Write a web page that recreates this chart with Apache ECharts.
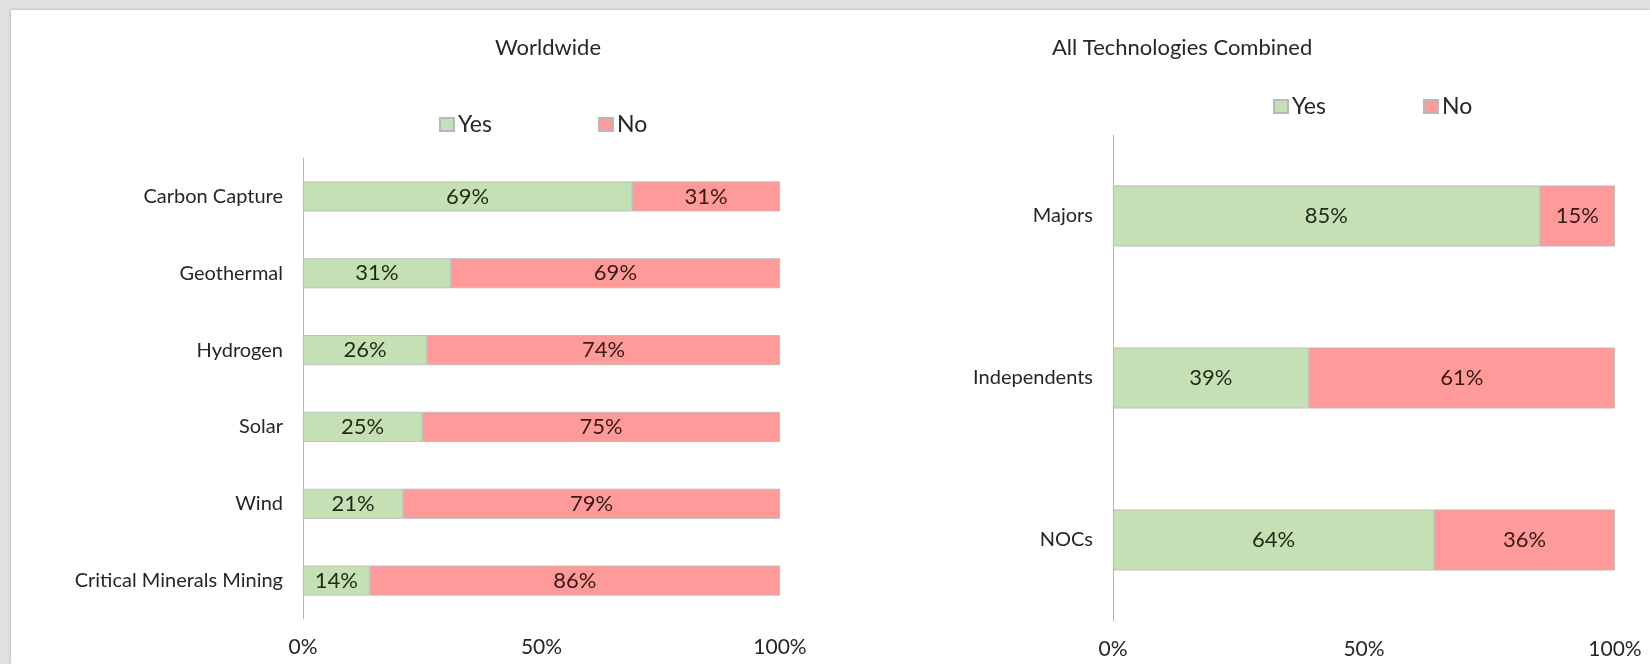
<!DOCTYPE html>
<html>
<head>
<meta charset="utf-8">
<script src="https://cdn.jsdelivr.net/npm/echarts@6/dist/echarts.min.js"></script>
<style>
  html, body { margin: 0; padding: 0; width: 1650px; height: 664px; background: #e2e2e2; overflow: hidden; }
  #panel { position: absolute; left: 11px; top: 10px; width: 1639px; height: 654px; background: #ffffff; box-shadow: -1px -1px 2px rgba(0,0,0,0.15); }
  #chart { position: absolute; left: 0; top: 0; width: 1650px; height: 664px; }
</style>
</head>
<body>
<div id="panel"></div>
<div id="chart"></div>
<script>
// ---- Data ----
const leftTitle = 'Worldwide';
const rightTitle = 'All Technologies Combined';
const seriesNames = ['Yes', 'No'];
const leftCategories = ['Carbon Capture', 'Geothermal', 'Hydrogen', 'Solar', 'Wind', 'Critical Minerals Mining'];
const leftYes = [69, 31, 26, 25, 21, 14];
const leftNo = [31, 69, 74, 75, 79, 86];
const rightCategories = ['Majors', 'Independents', 'NOCs'];
const rightYes = [85, 39, 64];
const rightNo = [15, 61, 36];
const xTicks = [0, 50, 100];

const FONT = 'Lato, "Open Sans", sans-serif';
const GREEN = '#c5e0b4';
const RED = '#ff9a9a';

const chart = echarts.init(document.getElementById('chart'), null, { renderer: 'canvas' });

function xAxisCfg(gridIndex) {
  return {
    type: 'value', gridIndex: gridIndex, min: xTicks[0], max: xTicks[xTicks.length - 1], interval: xTicks[1] - xTicks[0],
    axisLine: { show: false }, axisTick: { show: false }, splitLine: { show: false },
    axisLabel: { formatter: v => v + '%', color: '#262626', fontSize: 21, fontFamily: FONT, margin: 18 }
  };
}
function yAxisCfg(gridIndex, cats) {
  return {
    type: 'category', gridIndex: gridIndex, data: cats, inverse: true,
    axisLine: { show: true, lineStyle: { color: '#b4b4b4', width: 1 } },
    axisTick: { show: false },
    axisLabel: { color: '#262626', fontSize: 20, fontFamily: FONT, margin: 20 }
  };
}
function barSeries(name, data, axisIdx, stack, color, labelColor, width) {
  return {
    name: name, type: 'bar', stack: stack, xAxisIndex: axisIdx, yAxisIndex: axisIdx,
    data: data, barWidth: width,
    itemStyle: { color: color, borderColor: '#b8b8b8', borderWidth: 0.8 },
    label: { show: true, position: 'inside', formatter: p => p.value + '%', color: labelColor, fontSize: 22, fontFamily: FONT },
    emphasis: { disabled: true }
  };
}

const option = {
  backgroundColor: 'transparent',
  animation: false,
  title: [
    { text: leftTitle, left: 495, top: 37, padding: 0, textStyle: { fontSize: 22, fontWeight: 'normal', color: '#262626', fontFamily: FONT } },
    { text: rightTitle, left: 1052, top: 37, padding: 0, textStyle: { fontSize: 22, fontWeight: 'normal', color: '#262626', fontFamily: FONT } }
  ],
  legend: [
    { data: seriesNames, left: 439, top: 113, padding: 0, itemWidth: 14, itemHeight: 13, itemGap: 106, icon: 'rect',
      textStyle: { fontSize: 23, color: '#262626', fontFamily: FONT, padding: [0, 0, 0, -1] } },
    { data: seriesNames, left: 1273, top: 95, padding: 0, itemWidth: 14, itemHeight: 13, itemGap: 97, icon: 'rect',
      textStyle: { fontSize: 23, color: '#262626', fontFamily: FONT, padding: [0, 0, 0, -1] } }
  ],
  grid: [
    { left: 303, top: 158, width: 477, height: 461, containLabel: false },
    { left: 1113, top: 135, width: 502, height: 486, containLabel: false }
  ],
  xAxis: [xAxisCfg(0), xAxisCfg(1)],
  yAxis: [yAxisCfg(0, leftCategories), yAxisCfg(1, rightCategories)],
  series: [
    barSeries('Yes', leftYes, 0, 'left', GREEN, '#1f2a18', 30),
    barSeries('No', leftNo, 0, 'left', RED, '#3a1818', 30),
    barSeries('Yes', rightYes, 1, 'right', GREEN, '#1f2a18', 61),
    barSeries('No', rightNo, 1, 'right', RED, '#3a1818', 61)
  ]
};
chart.setOption(option);
</script>
</body>
</html>
